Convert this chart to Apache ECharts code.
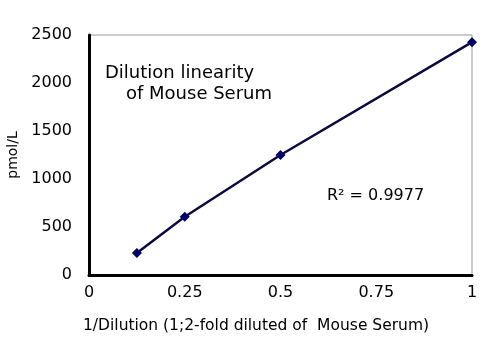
<!DOCTYPE html>
<html><head><meta charset="utf-8">
<script src="https://cdn.jsdelivr.net/npm/echarts@6/dist/echarts.min.js"></script>
<style>html,body{margin:0;padding:0;background:#fff}#c{width:500px;height:360px}</style>
</head><body><div id="c"></div>
<script>
var xValues = [0.125, 0.25, 0.5, 1];
var yValues = [229, 606, 1250, 2425];
var xTicks = [0, 0.25, 0.5, 0.75, 1];
var yTicks = [0, 500, 1000, 1500, 2000, 2500];
var FONT = '"DejaVu Sans", sans-serif';
var chart = echarts.init(document.getElementById('c'), null, {renderer: 'canvas'});
chart.setOption({
  animation: false,
  backgroundColor: '#fff',
  grid: {left: 89, right: 28, top: 35, bottom: 85, show: true, borderColor: '#999', borderWidth: 1,
    outerBoundsMode: 'none', containLabel: false},
  xAxis: {
    type: 'value', min: 0, max: 1, interval: 0.25,
    axisLine: {show: true, onZero: false, lineStyle: {color: '#000', width: 3}},
    axisTick: {show: false}, splitLine: {show: false},
    axisLabel: {color: '#000', fontSize: 16, fontFamily: FONT, margin: 10,
      formatter: function (v) { return String(v); }}
  },
  yAxis: {
    type: 'value', min: 0, max: 2500, interval: 500,
    name: 'pmol/L', nameLocation: 'middle', nameRotate: 90, nameGap: 66,
    nameTextStyle: {color: '#000', fontSize: 14, fontFamily: FONT},
    axisLine: {show: true, lineStyle: {color: '#000', width: 3}},
    axisTick: {show: false}, splitLine: {show: false},
    axisLabel: {color: '#000', fontSize: 16, fontFamily: FONT, margin: 17,
      formatter: function (v) { return String(v); }}
  },
  series: [{
    type: 'line',
    data: xValues.map(function (x, i) { return [x, yValues[i]]; }),
    symbol: 'diamond', symbolSize: 10,
    lineStyle: {color: '#0a0a40', width: 2.5},
    itemStyle: {color: '#000066'}
  }],
  graphic: [
    {type: 'text', left: 105, top: 64, style: {text: 'Dilution linearity', font: '18px ' + FONT, fill: '#000'}},
    {type: 'text', left: 126, top: 85, style: {text: 'of Mouse Serum', font: '18px ' + FONT, fill: '#000'}},
    {type: 'text', left: 327, top: 188, style: {text: 'R² = 0.9977', font: '16px ' + FONT, fill: '#000'}},
    {type: 'text', left: 83, top: 318, style: {text: '1/Dilution (1;2-fold diluted of  Mouse Serum)', font: '15.5px ' + FONT, fill: '#000'}}
  ]
});
</script></body></html>
